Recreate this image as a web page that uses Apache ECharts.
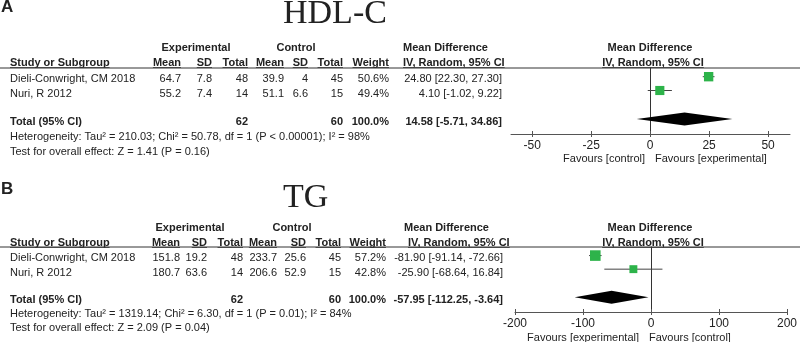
<!DOCTYPE html>
<html>
<head>
<meta charset="utf-8">
<script src="https://cdn.jsdelivr.net/npm/echarts@6/dist/echarts.min.js"></script>
<style>
  html, body { margin: 0; padding: 0; background: #fff; }
  #chart { width: 800px; height: 342px; }
</style>
</head>
<body>
<div id="chart"></div>
<script>
// ---- data: panel A (HDL-C) ----
const studies = ['Dieli-Conwright, CM 2018', 'Nuri, R 2012']
const hdlExpMean = ['64.7', '55.2']
const hdlExpSD = ['7.8', '7.4']
const hdlExpN = [48, 14]
const hdlCtlMean = ['39.9', '51.1']
const hdlCtlSD = ['4', '6.6']
const hdlCtlN = [45, 15]
const hdlWeight = [50.6, 49.4]
const hdlMD = [24.80, 4.10]
const hdlLo = [22.30, -1.02]
const hdlHi = [27.30, 9.22]
const hdlTotal = [14.58, -5.71, 34.86]
const hdlTotalN = [62, 60]
const hdlHet = 'Heterogeneity: Tau² = 210.03; Chi² = 50.78, df = 1 (P < 0.00001); I² = 98%'
const hdlTest = 'Test for overall effect: Z = 1.41 (P = 0.16)'
const hdlTicks = [-50, -25, 0, 25, 50]

// ---- data: panel B (TG) ----
const tgExpMean = ['151.8', '180.7']
const tgExpSD = ['19.2', '63.6']
const tgExpN = [48, 14]
const tgCtlMean = ['233.7', '206.6']
const tgCtlSD = ['25.6', '52.9']
const tgCtlN = [45, 15]
const tgWeight = [57.2, 42.8]
const tgMD = [-81.90, -25.90]
const tgLo = [-91.14, -68.64]
const tgHi = [-72.66, 16.84]
const tgTotal = [-57.95, -112.25, -3.64]
const tgTotalN = [62, 60]
const tgHet = 'Heterogeneity: Tau² = 1319.14; Chi² = 6.30, df = 1 (P = 0.01); I² = 84%'
const tgTest = 'Test for overall effect: Z = 2.09 (P = 0.04)'
const tgTicks = [-200, -100, 0, 100, 200]

// ---- layout ----
const SANS = '"Liberation Sans", Arial, sans-serif'
const SERIF = '"Liberation Serif", "Times New Roman", serif'
const INK = '#222'
const GREEN = '#2db34a'
const rowSlot = [0.58, 1.5, 3.4] // study 1, study 2, total (y units in plot)

const measure = document.createElement('canvas').getContext('2d')

function txt(x, y, s, opt) {
  opt = opt || {}
  const font = (opt.bold ? 'bold ' : '') + (opt.size || 11) + 'px ' + (opt.family || SANS)
  return {
    type: 'text', x: x, y: y, silent: true,
    style: {
      text: s, fill: INK, font: font,
      textAlign: opt.align || 'left', align: opt.align || 'left',
      textVerticalAlign: 'middle', verticalAlign: 'middle'
    }
  }
}
function hline(x1, x2, y, w) {
  return { type: 'line', silent: true, shape: { x1: x1, y1: y, x2: x2, y2: y }, style: { stroke: '#333', lineWidth: w || 1 } }
}
// bold header text with underline
function uhead(x, y, s, align) {
  measure.font = 'bold 11px ' + SANS
  const w = measure.measureText(s).width
  let x0 = x
  if (align === 'right') x0 = x - w
  if (align === 'center') x0 = x - w / 2
  return [txt(x, y, s, { bold: true, align: align }), hline(x0, x0 + w, y + 4.5, 0.8)]
}

function panel(p) {
  const g = []
  const c = p.cols
  g.push(txt(1, p.letterY, p.letter, { bold: true, size: 17 }))
  g.push(txt(283, p.titleY, p.title, { size: 34, family: SERIF }))
  // header rows
  g.push(txt(p.expCenter, p.h1, 'Experimental', { bold: true, align: 'center' }))
  g.push(txt(p.ctlCenter, p.h1, 'Control', { bold: true, align: 'center' }))
  g.push(txt(p.mdLeft, p.h1, 'Mean Difference', { bold: true }))
  g.push(txt(650, p.h1, 'Mean Difference', { bold: true, align: 'center' }))
  g.push(...uhead(10, p.h2, 'Study or Subgroup', 'left'))
  const heads = ['Mean', 'SD', 'Total', 'Mean', 'SD', 'Total', 'Weight']
  heads.forEach((h, i) => g.push(...uhead(c[i], p.h2, h, 'right')))
  g.push(...uhead(p.ivLeft, p.h2, 'IV, Random, 95% CI', 'left'))
  g.push(...uhead(653, p.h2, 'IV, Random, 95% CI', 'center'))
  g.push(hline(0, 800, p.rule, 1))
  // study rows
  studies.forEach((s, i) => {
    const y = p.rows[i]
    const vals = [p.expMean[i], p.expSD[i], p.expN[i], p.ctlMean[i], p.ctlSD[i], p.ctlN[i], p.weight[i].toFixed(1) + '%']
    g.push(txt(10, y, s))
    vals.forEach((v, j) => g.push(txt(c[j], y, String(v), { align: 'right' })))
    g.push(txt(p.ciRight, y, p.md[i].toFixed(2) + ' [' + p.lo[i].toFixed(2) + ', ' + p.hi[i].toFixed(2) + ']', { align: 'right' }))
  })
  // total row
  const t = p.total
  g.push(txt(10, p.totalY, 'Total (95% CI)', { bold: true }))
  g.push(txt(c[2], p.totalY, String(p.totalN[0]), { bold: true, align: 'right' }))
  g.push(txt(c[5], p.totalY, String(p.totalN[1]), { bold: true, align: 'right' }))
  g.push(txt(c[6], p.totalY, '100.0%', { bold: true, align: 'right' }))
  g.push(txt(p.ciRight, p.totalY, t[0].toFixed(2) + ' [' + t[1].toFixed(2) + ', ' + t[2].toFixed(2) + ']', { bold: true, align: 'right' }))
  g.push(txt(10, p.hetY, p.het))
  g.push(txt(10, p.testY, p.test))
  // favours labels
  g.push(txt(p.favSplit - 5, p.favY, p.favLeft, { align: 'right' }))
  g.push(txt(p.favSplit + 5, p.favY, p.favRight))
  return g
}

const panelA = {
  letter: 'A', letterY: 7, title: 'HDL-C', titleY: 14,
  h1: 48, h2: 63, rule: 68, rows: [79, 94], totalY: 122, hetY: 137, testY: 152, favY: 159,
  cols: [181, 212, 248, 284, 308, 343, 389], ciRight: 502, expCenter: 196, ctlCenter: 296,
  mdLeft: 403, ivLeft: 403, favSplit: 650,
  favLeft: 'Favours [control]', favRight: 'Favours [experimental]',
  expMean: hdlExpMean, expSD: hdlExpSD, expN: hdlExpN, ctlMean: hdlCtlMean, ctlSD: hdlCtlSD, ctlN: hdlCtlN,
  weight: hdlWeight, md: hdlMD, lo: hdlLo, hi: hdlHi, total: hdlTotal, totalN: hdlTotalN, het: hdlHet, test: hdlTest
}
const panelB = {
  letter: 'B', letterY: 189, title: 'TG', titleY: 198,
  h1: 228, h2: 243, rule: 247, rows: [258, 273], totalY: 300, hetY: 314, testY: 328, favY: 338,
  cols: [180, 207, 243, 277, 306, 341, 386], ciRight: 503, expCenter: 190, ctlCenter: 292,
  mdLeft: 404, ivLeft: 408, favSplit: 644,
  favLeft: 'Favours [experimental]', favRight: 'Favours [control]',
  expMean: tgExpMean, expSD: tgExpSD, expN: tgExpN, ctlMean: tgCtlMean, ctlSD: tgCtlSD, ctlN: tgCtlN,
  weight: tgWeight, md: tgMD, lo: tgLo, hi: tgHi, total: tgTotal, totalN: tgTotalN, het: tgHet, test: tgTest
}

function studyItems(p) {
  return p.md.map((v, i) => [v, p.lo[i], p.hi[i], p.weight[i], rowSlot[i]])
}

function renderStudy(params, api) {
  const slot = api.value(4)
  const pm = api.coord([api.value(0), slot])
  const pl = api.coord([api.value(1), slot])
  const ph = api.coord([api.value(2), slot])
  const s = api.value(3) * 0.185
  return {
    type: 'group',
    children: [
      { type: 'line', shape: { x1: pl[0], y1: pl[1], x2: ph[0], y2: ph[1] }, style: { stroke: '#444', lineWidth: 1 } },
      { type: 'rect', shape: { x: pm[0] - s / 2, y: pm[1] - s / 2, width: s, height: s }, style: { fill: GREEN } }
    ]
  }
}

function renderDiamond(params, api) {
  const slot = api.value(3)
  const pm = api.coord([api.value(0), slot])
  const pl = api.coord([api.value(1), slot])
  const ph = api.coord([api.value(2), slot])
  const h = 6.5
  return {
    type: 'polygon',
    shape: { points: [[pl[0], pm[1]], [pm[0], pm[1] - h], [ph[0], pm[1]], [pm[0], pm[1] + h]] },
    style: { fill: '#000' }
  }
}

function xAxes(gi, min, max, ticks) {
  const base = {
    gridIndex: gi, type: 'value', min: min, max: max, position: 'bottom',
    splitLine: { show: false }
  }
  return [
    Object.assign({}, base, {
      axisLine: { show: true, onZero: false, lineStyle: { color: '#555', width: 1 } },
      axisTick: { show: true, length: 3, customValues: ticks, lineStyle: { color: '#555' } },
      axisLabel: { customValues: ticks, margin: 6, fontSize: 12, color: INK, fontFamily: SANS }
    }),
    Object.assign({}, base, {
      axisLine: { show: false, onZero: false },
      axisTick: { show: true, inside: true, length: 3, customValues: ticks, lineStyle: { color: '#555' } },
      axisLabel: { show: false }
    })
  ]
}

function yAxis(gi) {
  return {
    gridIndex: gi, type: 'value', inverse: true, min: 0, max: 4.4,
    axisLine: { show: true, onZero: true, lineStyle: { color: '#333', width: 1 } },
    axisTick: { show: false }, axisLabel: { show: false }, splitLine: { show: false }
  }
}

const chart = echarts.init(document.getElementById('chart'), null, { renderer: 'canvas' })
chart.setOption({
  animation: false,
  backgroundColor: '#fff',
  grid: [
    { left: 511, top: 68, width: 279, height: 66 },
    { left: 515, top: 247, width: 273, height: 65 }
  ],
  xAxis: [].concat(xAxes(0, -59, 59.3, hdlTicks), xAxes(1, -200, 200, tgTicks)),
  yAxis: [yAxis(0), yAxis(1)],
  series: [
    { type: 'custom', xAxisIndex: 0, yAxisIndex: 0, renderItem: renderStudy, data: studyItems(panelA), clip: false },
    { type: 'custom', xAxisIndex: 0, yAxisIndex: 0, renderItem: renderDiamond, data: [hdlTotal.concat([rowSlot[2]])], clip: false },
    { type: 'custom', xAxisIndex: 2, yAxisIndex: 1, renderItem: renderStudy, data: studyItems(panelB), clip: false },
    { type: 'custom', xAxisIndex: 2, yAxisIndex: 1, renderItem: renderDiamond, data: [tgTotal.concat([rowSlot[2]])], clip: false }
  ],
  graphic: { elements: [].concat(panel(panelA), panel(panelB)) }
})
</script>
</body>
</html>
